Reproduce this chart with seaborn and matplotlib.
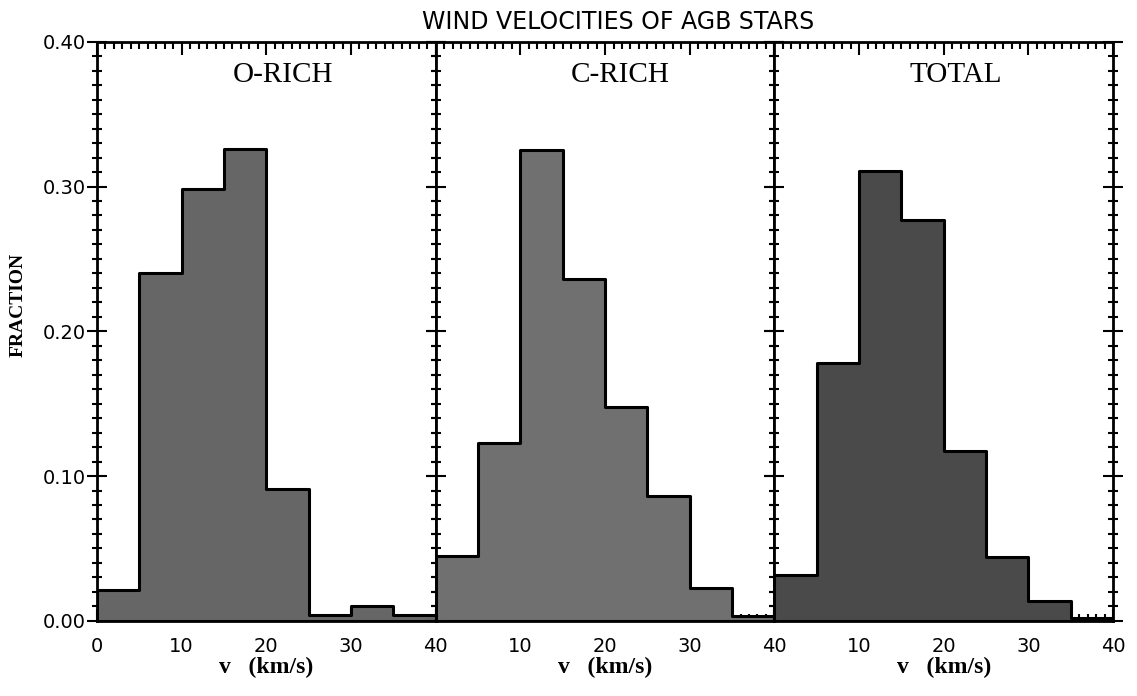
import numpy as np
import pandas as pd
import matplotlib
matplotlib.use("Agg")
import matplotlib.pyplot as plt
import seaborn as sns
from matplotlib.ticker import MultipleLocator, FuncFormatter

# ---- data ----
bin_edges = [0, 5, 10, 15, 20, 25, 30, 35, 40]
bin_centers = [2.5, 7.5, 12.5, 17.5, 22.5, 27.5, 32.5, 37.5]
o_rich = [0.021, 0.240, 0.298, 0.326, 0.091, 0.004, 0.010, 0.004]
c_rich = [0.045, 0.123, 0.325, 0.236, 0.148, 0.086, 0.023, 0.003]
total = [0.032, 0.178, 0.311, 0.277, 0.117, 0.044, 0.014, 0.002]
panel_names = ["O-RICH", "C-RICH", "TOTAL"]
panel_values = [o_rich, c_rich, total]
panel_colors = ["#666666", "#707070", "#4a4a4a"]
x_ticks = [0, 10, 20, 30, 40]
y_ticks = [0.0, 0.1, 0.2, 0.3, 0.4]

sns.set_style("ticks")
plt.rcParams["font.family"] = ["DejaVu Sans"]
plt.rcParams["text.color"] = "black"
plt.rcParams["axes.labelcolor"] = "black"
plt.rcParams["xtick.color"] = "black"
plt.rcParams["ytick.color"] = "black"

fig, axes = plt.subplots(1, 3, sharey=True, figsize=(11.37, 6.96), dpi=100)
fig.subplots_adjust(left=0.0853, right=0.979, top=0.940, bottom=0.108, wspace=0)

for i, (ax, name, vals, col) in enumerate(zip(axes, panel_names, panel_values, panel_colors)):
    df = pd.DataFrame({"v": bin_centers, "w": vals})
    sns.histplot(data=df, x="v", weights="w", bins=bin_edges, element="step",
                 fill=True, color=col, alpha=1, edgecolor="black", linewidth=2.2,
                 ax=ax)
    ax.set_xlim(0, 40)
    ax.set_ylim(0, 0.40)
    ax.set_xticks(x_ticks)
    ax.xaxis.set_minor_locator(MultipleLocator(1))
    ax.set_yticks(y_ticks)
    ax.yaxis.set_minor_locator(MultipleLocator(0.01))
    ax.yaxis.set_major_formatter(FuncFormatter(lambda v, p: f"{v:.2f}"))
    if i > 0:
        ax.xaxis.set_major_formatter(FuncFormatter(lambda v, p: "" if v == 0 else f"{v:.0f}"))
    else:
        ax.xaxis.set_major_formatter(FuncFormatter(lambda v, p: f"{v:.0f}"))
    ax.tick_params(axis="x", which="both", direction="in", top=True, bottom=True,
                   labelsize=14, pad=12, width=1.5)
    ax.tick_params(axis="x", which="major", length=9)
    ax.tick_params(axis="x", which="minor", length=5)
    ax.tick_params(axis="y", which="both", direction="inout", left=True, right=True,
                   labelsize=14, pad=1, width=1.5)
    ax.tick_params(axis="y", which="major", length=14)
    ax.tick_params(axis="y", which="minor", length=7)
    for s in ax.spines.values():
        s.set_linewidth(2)
        s.set_color("black")
        s.set_visible(True)
    ax.set_xlabel("v   (km/s)", fontfamily="Liberation Serif", fontweight="bold",
                  fontsize=17, labelpad=0)
    ax.set_ylabel("")
    ax.text(16, 0.377, name, fontfamily="Liberation Serif", fontsize=21,
            ha="left", va="center")

fig.text(18 / 1137, 1 - 305 / 696, "FRACTION", rotation=90, fontfamily="Liberation Serif",
         fontweight="bold", fontsize=14, ha="center", va="center")
fig.text(618 / 1137, 1 - 22 / 696, "WIND VELOCITIES OF AGB STARS", fontsize=17,
         ha="center", va="center")

fig.savefig("out.png", dpi=100)
